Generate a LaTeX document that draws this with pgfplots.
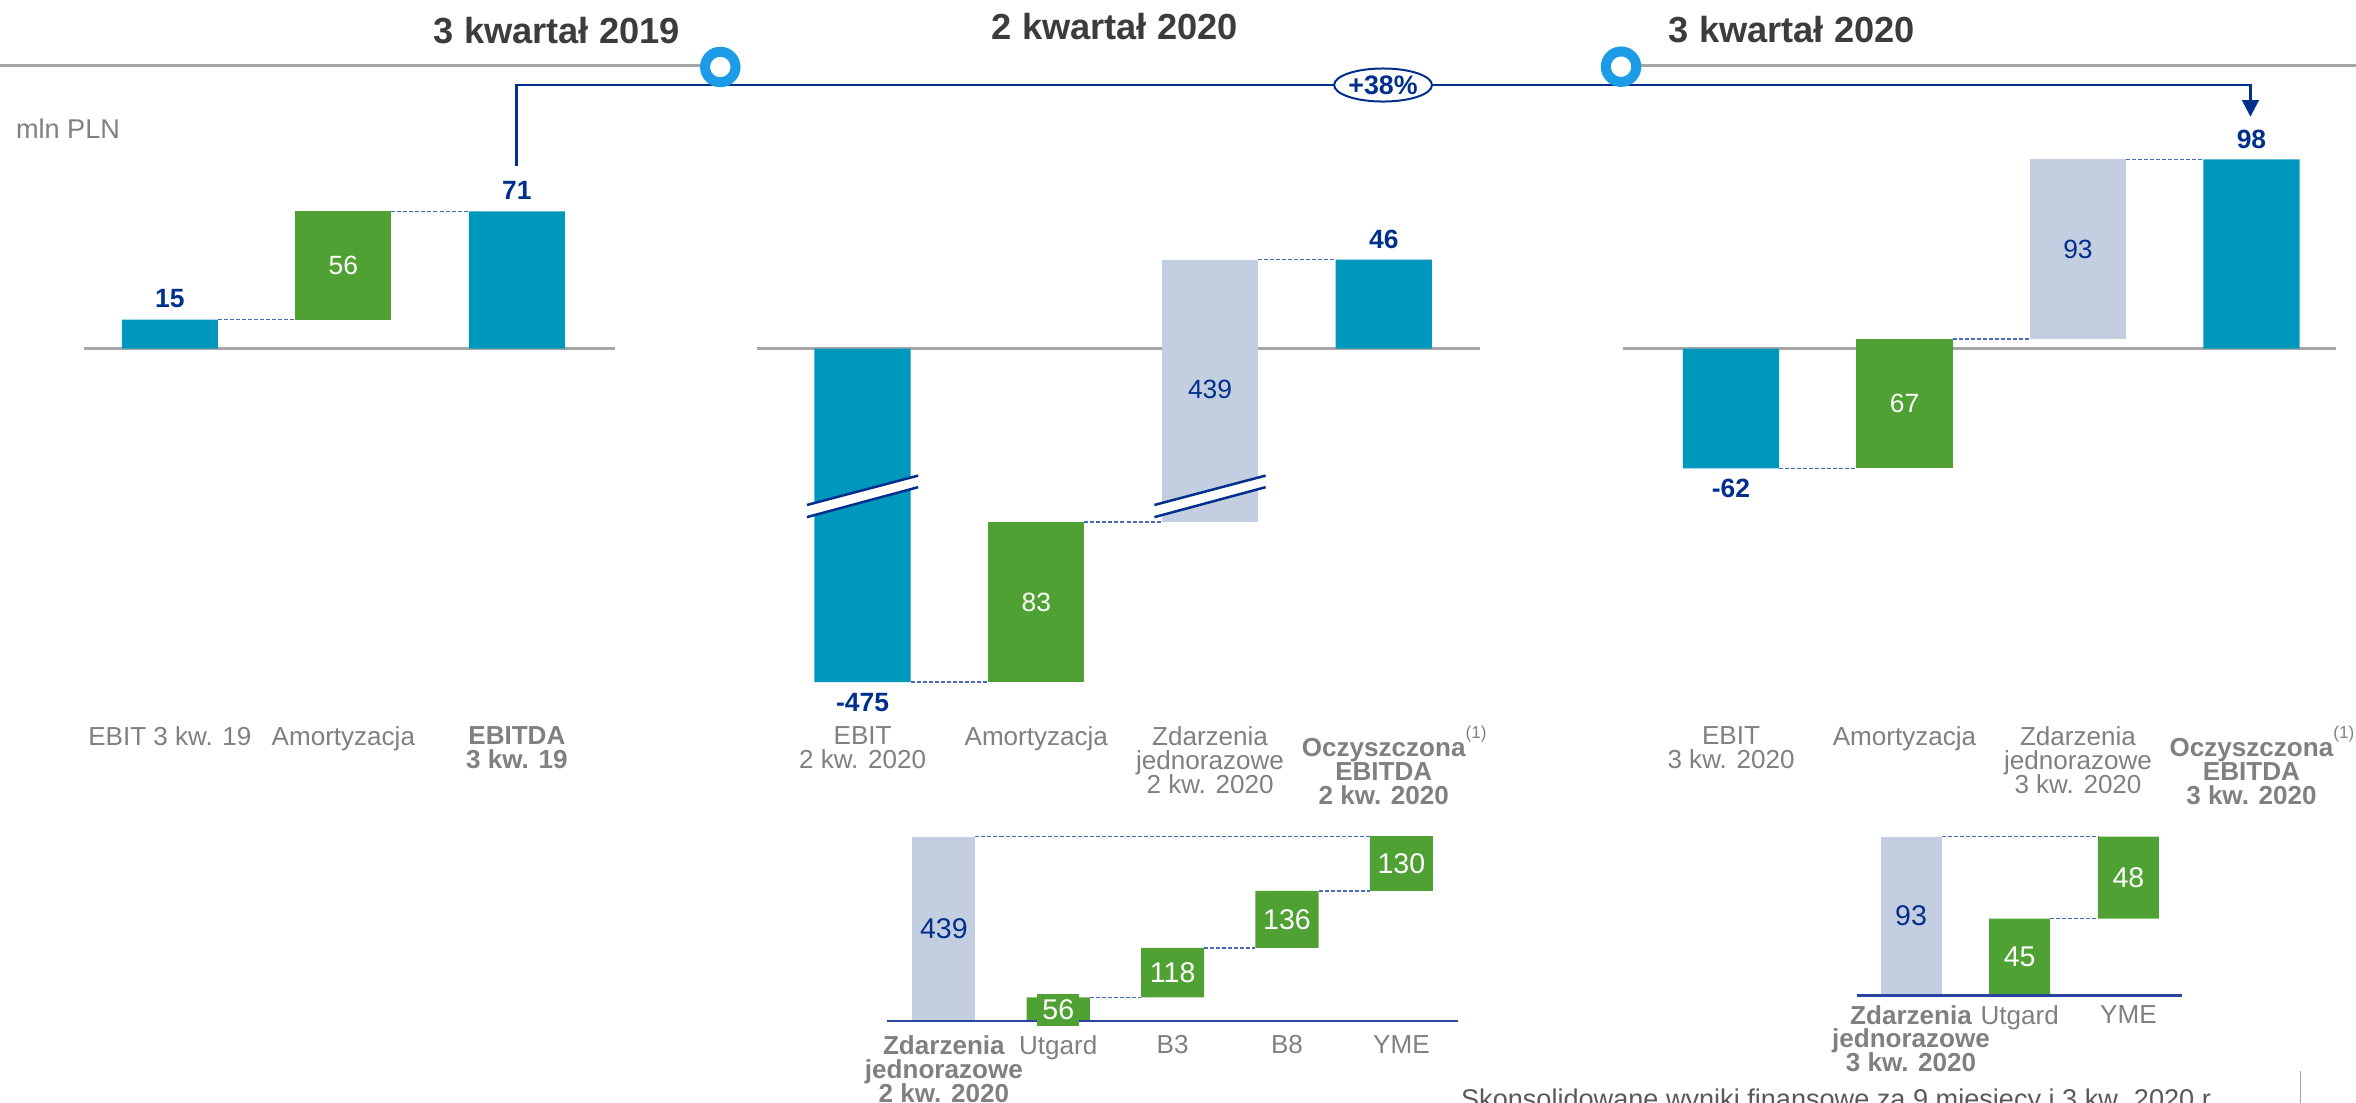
\documentclass[border=0pt]{standalone}
\usepackage{fontspec}
\setmainfont{Liberation Sans}
\usepackage{pgfplots}
\usepackage{pgfplotstable}
\pgfplotsset{compat=1.18}
\usetikzlibrary{arrows.meta,shapes.geometric}

\definecolor{barteal}{RGB}{0,151,189}
\definecolor{bargreen}{RGB}{79,161,51}
\definecolor{bargrey}{RGB}{195,206,224}
\definecolor{darknavy}{RGB}{0,48,140}
\definecolor{labgrey}{RGB}{128,128,128}
\definecolor{titlegrey}{RGB}{60,60,60}
\definecolor{basegrey}{RGB}{166,166,166}
\definecolor{ringblue}{RGB}{28,155,230}
\definecolor{dashblue}{RGB}{75,105,185}
\definecolor{subline}{RGB}{40,70,160}

\setlength{\lineskiplimit}{-20pt}

% one shown pixel = 0.15mm
\tikzset{
  val/.style={inner sep=0pt, text=darknavy, font=\fontsize{7.5pt}{8pt}\selectfont\bfseries},
  inbar/.style={inner sep=0pt, text=white, font=\fontsize{7.5pt}{8pt}\selectfont},
  inbarS/.style={inner sep=0pt, text=white, font=\fontsize{8.1pt}{9pt}\selectfont},
  cat/.style={inner sep=0pt, anchor=north, align=center, text=labgrey,
    font=\fontsize{7.4pt}{6.8pt}\selectfont},
  catb/.style={cat, font=\fontsize{7.4pt}{6.8pt}\selectfont\bfseries},
  conn/.style={dashblue, line width=0.15mm, dash pattern=on 0.4mm off 0.2mm},
  base/.style={basegrey, line width=0.3mm},
  brk/.style={darknavy, line width=0.25mm},
}
\newcommand\fn{\rlap{\raisebox{5pt}{\fontsize{4.9pt}{5pt}\selectfont\mdseries(1)}}}

\pgfplotsset{
  wfall/.style={scale only axis, hide axis, clip=false, ybar stacked,
    stack negative=on previous, reverse stacked plots=false, anchor=south west},
  wf/.style={wfall, height=58.5mm, ymin=-193.0, ymax=110.5, bar width=0.554},
  wfsub/.style={wfall, ymin=0},
}

% Q3 2019
\pgfplotstableread{
x base teal green grey
0 0    15   0  0
1 15   0    56 0
2 0    71   0  0
}\tabA
% Q2 2020 -- EBIT (-475) and one-offs (439) are drawn on a broken scale
\pgfplotstableread{
x base   teal   green grey
0 0      -172.8 0     0
1 -172.8 0      83    0
2 -89.8  0      0     135.8
3 0      46     0     0
}\tabB
% Q3 2020
\pgfplotstableread{
x base teal green grey
0 0    -62  0     0
1 -62  0    67    0
2 5    0    0     93
3 0    98   0     0
}\tabC
% one-offs Q2 2020 breakdown
\pgfplotstableread{
x base grey green
0 0    439  0
1 0    0    56
2 56   0    118
3 174  0    136
4 310  0    130
}\tabD
% one-offs Q3 2020 breakdown
\pgfplotstableread{
x base grey green
0 0    93   0
1 0    0    45
2 45   0    48
}\tabE

\begin{document}%
\begin{tikzpicture}
\path[use as bounding box, clip] (0,0) rectangle (235.2mm,110.1mm);

\begin{scope}[x=0.15mm, y=-0.15mm, yshift=110.1mm]
  \draw[basegrey, line width=0.3mm] (0,43.5) -- (479,43.5);
  \draw[basegrey, line width=0.3mm] (1079,43.5) -- (1568,43.5);
  \draw[darknavy, line width=0.25mm, -{Triangle[width=1.65mm,length=1.65mm]}]
    (343.6,110.5) -- (343.6,56.6) -- (1497.8,56.6) -- (1497.8,77.7);
  \node[ellipse, draw=darknavy, fill=white, line width=0.2mm, inner sep=0pt,
    minimum width=9.75mm, minimum height=3.3mm, text=darknavy,
    font=\fontsize{7.6pt}{8pt}\selectfont\bfseries] at (920.5,56.6) {+38\%};
  \draw[ringblue, fill=white, line width=1.0mm] (479.4,44.6) circle[radius=1.52mm];
  \draw[ringblue, fill=white, line width=1.0mm] (1078.9,44.4) circle[radius=1.52mm];
  \node[anchor=base, inner sep=0pt, text=titlegrey,
    font=\fontsize{10.3pt}{12pt}\selectfont\bfseries] at (370.6,28.8) {3 kwartał 2019};
  \node[anchor=base, inner sep=0pt, text=titlegrey,
    font=\fontsize{10.3pt}{12pt}\selectfont\bfseries] at (742,26.6) {2 kwartał 2020};
  \node[anchor=base, inner sep=0pt, text=titlegrey,
    font=\fontsize{10.3pt}{12pt}\selectfont\bfseries] at (1192.6,28.2) {3 kwartał 2020};
  \node[anchor=base west, inner sep=0pt, text=labgrey,
    font=\fontsize{7.7pt}{9pt}\selectfont] at (10.2,92) {mln PLN};
  \node[anchor=base west, inner sep=0pt, text=titlegrey!85,
    font=\fontsize{7.7pt}{9pt}\selectfont] at (972,738)
    {Skonsolidowane wyniki finansowe za 9 miesięcy i 3 kw. 2020 r.};
  \draw[basegrey, line width=0.15mm] (1531,713) -- (1531,745);
\end{scope}

\begin{scope}[overlay]
% ---- Q3 2019
\begin{axis}[wf, at={(8.4mm,38.1mm)}, width=52.95mm, xmin=-0.494, xmax=2.563]
  \draw[base] (axis cs:-0.494,0) -- (axis cs:2.563,0);
  \addplot[draw=none, fill=none] table[x=x, y=base] {\tabA};
  \addplot[draw=none, fill=barteal] table[x=x, y=teal] {\tabA};
  \addplot[draw=none, fill=bargreen] table[x=x, y=green] {\tabA};
  \draw[conn] (axis cs:0.277,15) -- (axis cs:0.723,15);
  \draw[conn] (axis cs:1.277,71) -- (axis cs:1.723,71);
  \node[val] at (axis cs:0,15) [yshift=2.1mm] {15};
  \node[inbar] at (axis cs:1,43) {56};
  \node[val] at (axis cs:2,71) [yshift=2.1mm] {71};
  \node[cat] at (axis cs:0,-195.3) {EBIT 3 kw. 19};
  \node[cat] at (axis cs:1,-195.3) {Amortyzacja};
  \node[catb] at (axis cs:2,-195.3) {EBITDA\\3 kw. 19};
\end{axis}

% ---- Q2 2020
\begin{axis}[wf, at={(75.6mm,38.1mm)}, width=72.15mm, xmin=-0.606, xmax=3.554]
  \draw[base] (axis cs:-0.606,0) -- (axis cs:3.554,0);
  \addplot[draw=none, fill=none] table[x=x, y=base] {\tabB};
  \addplot[draw=none, fill=barteal] table[x=x, y=teal] {\tabB};
  \addplot[draw=none, fill=bargreen] table[x=x, y=green] {\tabB};
  \addplot[draw=none, fill=bargrey] table[x=x, y=grey] {\tabB};
  % axis-break marks
  \fill[white] (axis cs:-0.32,-81.0) -- (axis cs:0.32,-65.8)
    -- (axis cs:0.32,-71.8) -- (axis cs:-0.32,-87.3) -- cycle;
  \draw[brk] (axis cs:-0.32,-81.0) -- (axis cs:0.32,-65.8);
  \draw[brk] (axis cs:-0.32,-87.3) -- (axis cs:0.32,-71.8);
  \fill[white] (axis cs:1.68,-81.0) -- (axis cs:2.32,-65.8)
    -- (axis cs:2.32,-71.8) -- (axis cs:1.68,-87.3) -- cycle;
  \draw[brk] (axis cs:1.68,-81.0) -- (axis cs:2.32,-65.8);
  \draw[brk] (axis cs:1.68,-87.3) -- (axis cs:2.32,-71.8);
  \draw[conn] (axis cs:0.277,-172.8) -- (axis cs:0.723,-172.8);
  \draw[conn] (axis cs:1.277,-89.8) -- (axis cs:1.723,-89.8);
  \draw[conn] (axis cs:2.277,46) -- (axis cs:2.723,46);
  \node[val] at (axis cs:0,-172.8) [yshift=-2.0mm] {-475};
  \node[inbar] at (axis cs:1,-131.3) {83};
  \node[inbar, text=darknavy] at (axis cs:2,-21.4) {439};
  \node[val] at (axis cs:3,46) [yshift=2.0mm] {46};
  \node[cat] at (axis cs:0,-195.3) {EBIT\\2 kw. 2020};
  \node[cat] at (axis cs:1,-195.3) {Amortyzacja};
  \node[cat] at (axis cs:2,-195.3) {Zdarzenia\\jednorazowe\\2 kw. 2020};
  \node[catb] at (axis cs:3,-195.3) {Oczyszczona\fn\\EBITDA\\2 kw. 2020};
\end{axis}

% ---- Q3 2020
\begin{axis}[wf, at={(162mm,38.1mm)}, width=71.25mm, xmin=-0.624, xmax=3.49]
  \draw[base] (axis cs:-0.624,0) -- (axis cs:3.49,0);
  \addplot[draw=none, fill=none] table[x=x, y=base] {\tabC};
  \addplot[draw=none, fill=barteal] table[x=x, y=teal] {\tabC};
  \addplot[draw=none, fill=bargreen] table[x=x, y=green] {\tabC};
  \addplot[draw=none, fill=bargrey] table[x=x, y=grey] {\tabC};
  \draw[conn] (axis cs:0.277,-62) -- (axis cs:0.723,-62);
  \draw[conn] (axis cs:1.277,5) -- (axis cs:1.723,5);
  \draw[conn] (axis cs:2.277,98) -- (axis cs:2.723,98);
  \node[val] at (axis cs:0,-62) [yshift=-2.0mm] {-62};
  \node[inbar] at (axis cs:1,-28.5) {67};
  \node[inbar, text=darknavy] at (axis cs:2,51.5) {93};
  \node[val] at (axis cs:3,98) [yshift=2.0mm] {98};
  \node[cat] at (axis cs:0,-195.3) {EBIT\\3 kw. 2020};
  \node[cat] at (axis cs:1,-195.3) {Amortyzacja};
  \node[cat] at (axis cs:2,-195.3) {Zdarzenia\\jednorazowe\\3 kw. 2020};
  \node[catb] at (axis cs:3,-195.3) {Oczyszczona\fn\\EBITDA\\3 kw. 2020};
\end{axis}

% ---- one-offs Q2 2020
\begin{axis}[wfsub, at={(88.575mm,8.175mm)}, width=56.955mm, height=20.925mm,
    xmin=-0.495, xmax=4.493, ymax=499.1, bar width=0.552]
  \addplot[draw=none, fill=none] table[x=x, y=base] {\tabD};
  \addplot[draw=none, fill=bargrey] table[x=x, y=grey] {\tabD};
  \addplot[draw=none, fill=bargreen] table[x=x, y=green] {\tabD};
  \draw[subline, line width=0.25mm] (axis cs:-0.495,0) -- (axis cs:4.493,0);
  \draw[conn] (axis cs:0.276,439) -- (axis cs:3.724,439);
  \draw[conn] (axis cs:1.276,56) -- (axis cs:1.724,56);
  \draw[conn] (axis cs:2.276,174) -- (axis cs:2.724,174);
  \draw[conn] (axis cs:3.276,310) -- (axis cs:3.724,310);
  \node[inbarS, text=darknavy] at (axis cs:0,219.5) {439};
  \node[inbarS, fill=bargreen, minimum width=4.16mm, minimum height=3.2mm] at (axis cs:1,26.5) {56};
  \node[inbarS] at (axis cs:2,115) {118};
  \node[inbarS] at (axis cs:3,242) {136};
  \node[inbarS] at (axis cs:4,375) {130};
  \node[catb] at (axis cs:0,-32.5) {Zdarzenia\\jednorazowe\\2 kw. 2020};
  \node[cat] at (axis cs:1,-32.5) {Utgard};
  \node[cat] at (axis cs:2,-32.5) {B3};
  \node[cat] at (axis cs:3,-32.5) {B8};
  \node[cat] at (axis cs:4,-32.5) {YME};
\end{axis}

% ---- one-offs Q3 2020
\begin{axis}[wfsub, at={(185.415mm,10.71mm)}, width=32.4mm, height=18.39mm,
    xmin=-0.494, xmax=2.492, ymax=107.8, bar width=0.5615]
  \addplot[draw=none, fill=none] table[x=x, y=base] {\tabE};
  \addplot[draw=none, fill=bargrey] table[x=x, y=grey] {\tabE};
  \addplot[draw=none, fill=bargreen] table[x=x, y=green] {\tabE};
  \draw[subline, line width=0.25mm] (axis cs:-0.494,0) -- (axis cs:2.492,0);
  \draw[conn] (axis cs:0.281,93) -- (axis cs:1.719,93);
  \draw[conn] (axis cs:1.281,45) -- (axis cs:1.719,45);
  \node[inbarS, text=darknavy] at (axis cs:0,46.5) {93};
  \node[inbarS] at (axis cs:1,22.5) {45};
  \node[inbarS] at (axis cs:2,69) {48};
  \node[catb] at (axis cs:0,-5.2) {Zdarzenia\\jednorazowe\\3 kw. 2020};
  \node[cat] at (axis cs:1,-5.2) {Utgard};
  \node[cat] at (axis cs:2,-5.2) {YME};
\end{axis}
\end{scope}
\end{tikzpicture}%
\end{document}
